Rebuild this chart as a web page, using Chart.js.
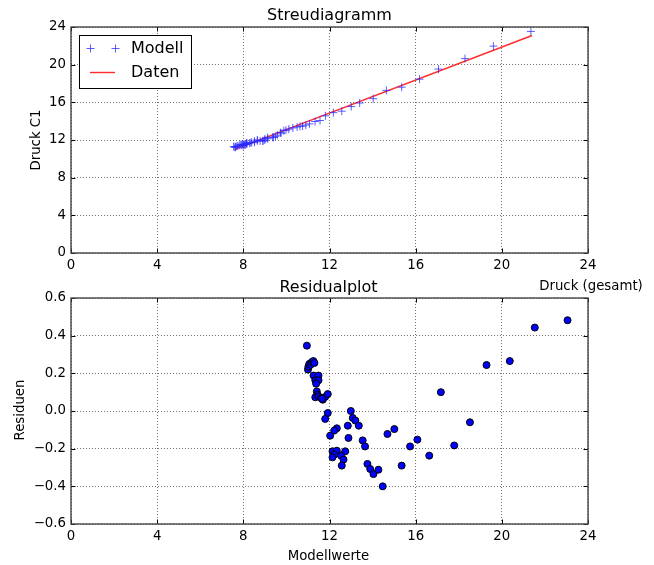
<!DOCTYPE html>
<html>
<head>
<meta charset="utf-8">
<script src="https://cdn.jsdelivr.net/npm/chart.js@4.4.1/dist/chart.umd.min.js"></script>
<style>
  html, body { margin: 0; padding: 0; background: #ffffff; }
  #wrap { position: relative; width: 654px; height: 565px; }
  canvas { position: absolute; left: 0; top: 0; }
</style>
</head>
<body>
<div id="wrap">
  <canvas id="top" width="654" height="565"></canvas>
  <canvas id="bottom" width="654" height="565"></canvas>
</div>
<script>
// ---- Data ----
// Upper plot: Druck (gesamt) vs Druck C1
const druckGesamt = [7.55, 7.61, 7.63, 7.67, 7.74, 7.81, 7.89, 7.95, 7.90, 8.16,
  7.99, 8.16, 8.04, 8.07, 8.11, 7.99, 8.16, 8.29, 8.39, 8.52,
  8.65, 8.35, 8.65, 8.52, 9.88, 9.98, 10.11, 10.30, 9.72, 9.13,
  9.00, 8.78, 9.75, 10.50, 10.63, 11.81, 12.18, 13.01, 13.40, 14.03,
  8.91, 9.13, 9.58, 9.00, 8.91, 9.36, 9.49, 9.40, 10.75, 10.90,
  11.07, 11.33, 12.57, 11.56, 14.64, 15.35, 16.18, 17.06, 18.29, 19.61,
  21.35];
const druckC1 = [11.30, 11.22, 11.26, 11.31, 11.37, 11.44, 11.52, 11.56, 11.45, 11.68,
  11.50, 11.65, 11.53, 11.51, 11.53, 11.41, 11.57, 11.67, 11.75, 11.88,
  12.01, 11.72, 11.91, 11.76, 12.99, 13.04, 13.15, 13.28, 12.77, 12.25,
  12.12, 11.90, 12.74, 13.38, 13.46, 14.57, 14.91, 15.55, 15.93, 16.39,
  11.93, 12.13, 12.52, 11.99, 11.89, 12.30, 12.39, 12.28, 13.48, 13.58,
  13.71, 13.96, 15.06, 14.07, 17.27, 17.61, 18.46, 19.53, 20.64, 21.97,
  23.53];
// Fitted line ("Daten")
const lineX = [7.6, 21.4];
const lineY = [11.0, 23.1];

// Lower plot: Modellwerte vs Residuen
const modellwerte = [10.95, 11.00, 11.02, 11.06, 11.12, 11.18, 11.25, 11.30, 11.26, 11.49,
  11.34, 11.49, 11.38, 11.41, 11.44, 11.34, 11.49, 11.60, 11.69, 11.80,
  11.92, 11.65, 11.92, 11.80, 12.99, 13.08, 13.20, 13.36, 12.85, 12.34,
  12.22, 12.03, 12.88, 13.54, 13.65, 14.69, 15.01, 15.74, 16.08, 16.63,
  12.14, 12.34, 12.73, 12.22, 12.14, 12.54, 12.65, 12.57, 13.76, 13.89,
  14.04, 14.27, 15.35, 14.47, 17.17, 17.79, 18.52, 19.29, 20.37, 21.53,
  23.05];
const residuen = [0.347, 0.220, 0.235, 0.250, 0.245, 0.260, 0.265, 0.255, 0.188, 0.188,
  0.163, 0.163, 0.145, 0.104, 0.087, 0.073, 0.078, 0.070, 0.060, 0.075,
  0.090, 0.065, -0.011, -0.042, 0.000, -0.037, -0.051, -0.078, -0.078, -0.092,
  -0.104, -0.131, -0.143, -0.156, -0.188, -0.122, -0.096, -0.188, -0.152, -0.237,
  -0.214, -0.211, -0.214, -0.232, -0.246, -0.237, -0.258, -0.290, -0.281, -0.308,
  -0.335, -0.312, -0.290, -0.400, 0.100, -0.183, -0.060, 0.244, 0.265, 0.443,
  0.482];

// Tick settings
const xTicksTop = { min: 0, max: 24, step: 4 };
const yTicksTop = { min: 0, max: 24, step: 4 };
const xTicksBottom = { min: 0, max: 24, step: 4 };
const yTicksBottom = { min: -0.6, max: 0.6, step: 0.2 };

// ---- Styling helpers ----
const FONT = "'DejaVu Sans', 'Liberation Sans', sans-serif";
const TICK_FONT = { family: FONT, size: 13.3 };

const framePlugin = {
  id: 'frameTicks',
  afterDraw(chart) {
    const { ctx, chartArea: { left, right, top, bottom } } = chart;
    const xs = chart.scales.x, ys = chart.scales.y;
    ctx.save();
    ctx.strokeStyle = '#000';
    ctx.lineWidth = 1;
    ctx.setLineDash([]);
    const L = 4.5;
    xs.ticks.forEach(t => {
      const px = Math.round(xs.getPixelForValue(t.value)) + 0.5;
      ctx.beginPath();
      ctx.moveTo(px, bottom); ctx.lineTo(px, bottom - L);
      ctx.moveTo(px, top); ctx.lineTo(px, top + L);
      ctx.stroke();
    });
    ys.ticks.forEach(t => {
      const py = Math.round(ys.getPixelForValue(t.value)) + 0.5;
      ctx.beginPath();
      ctx.moveTo(left, py); ctx.lineTo(left + L, py);
      ctx.moveTo(right, py); ctx.lineTo(right - L, py);
      ctx.stroke();
    });
    ctx.strokeStyle = '#444';
    ctx.lineWidth = 1.4;
    ctx.strokeRect(left, top, right - left, bottom - top);
    ctx.restore();
  }
};

const textPlugin = {
  id: 'texts',
  afterDraw(chart, args, opts) {
    const ctx = chart.ctx;
    ctx.save();
    ctx.fillStyle = '#000';
    (opts.items || []).forEach(it => {
      ctx.save();
      ctx.font = it.size + 'px ' + FONT;
      ctx.textAlign = 'center';
      ctx.textBaseline = 'middle';
      ctx.translate(it.x, it.y);
      if (it.rotate) ctx.rotate(it.rotate);
      ctx.fillText(it.text, 0, 0);
      ctx.restore();
    });
    ctx.restore();
  }
};

const legendPlugin = {
  id: 'boxLegend',
  afterDraw(chart, args, opts) {
    if (!opts.show) return;
    const ctx = chart.ctx;
    const ds = chart.data.datasets;
    ctx.save();
    const bx = 79.5, by = 35.5, bw = 112, bh = 53;
    ctx.fillStyle = '#fff';
    ctx.fillRect(bx, by, bw, bh);
    ctx.strokeStyle = '#000';
    ctx.lineWidth = 1;
    ctx.strokeRect(bx, by, bw, bh);
    // Modell entry: two crosses
    const y1 = 48.5, y2 = 72.5;
    ctx.strokeStyle = ds[0].borderColor;
    ctx.lineWidth = 1;
    [90.5, 115.5].forEach(cx => {
      ctx.beginPath();
      ctx.moveTo(cx - 4, y1); ctx.lineTo(cx + 4, y1);
      ctx.moveTo(cx, y1 - 4); ctx.lineTo(cx, y1 + 4);
      ctx.stroke();
    });
    // Daten entry: red line
    ctx.strokeStyle = ds[1].borderColor;
    ctx.lineWidth = ds[1].borderWidth;
    ctx.beginPath();
    ctx.moveTo(90, y2); ctx.lineTo(115, y2);
    ctx.stroke();
    ctx.fillStyle = '#000';
    ctx.font = '16px ' + FONT;
    ctx.textAlign = 'left';
    ctx.textBaseline = 'middle';
    ctx.fillText(ds[0].label, 131, y1 + 0.5);
    ctx.fillText(ds[1].label, 131, y2 + 0.5);
    ctx.restore();
  }
};

function axis(t, isX, fixed, fmt) {
  return {
    type: 'linear',
    min: t.min, max: t.max,
    ticks: {
      stepSize: t.step,
      padding: isX ? 5 : 5,
      color: '#000',
      font: TICK_FONT,
      maxRotation: 0,
      autoSkip: false,
      callback: fmt
    },
    grid: { drawTicks: false, color: 'rgba(0,0,0,0.55)', lineWidth: 1 },
    border: { display: false, dash: [1, 2] },
    afterFit(s) { if (isX) s.height = fixed; else s.width = fixed; }
  };
}

const intFmt = v => String(Math.round(v));
const decFmt = v => {
  const r = Math.round(v * 10) / 10;
  const s = Math.abs(r).toFixed(1);
  return (r < 0 ? '\u2212' : '') + s;
};

Chart.register(framePlugin, textPlugin, legendPlugin);

// ---- Upper chart ----
new Chart(document.getElementById('top'), {
  type: 'scatter',
  data: {
    datasets: [
      {
        label: 'Modell',
        data: druckGesamt.map((x, i) => ({ x: x, y: druckC1[i] })),
        pointStyle: 'cross',
        pointRadius: 4,
        borderColor: 'rgba(40,40,255,0.75)',
        backgroundColor: 'rgba(40,40,255,0.75)',
        borderWidth: 1,
        showLine: false
      },
      {
        label: 'Daten',
        type: 'line',
        data: lineX.map((x, i) => ({ x: x, y: lineY[i] })),
        borderColor: 'rgba(255,20,20,0.9)',
        borderWidth: 1.4,
        pointRadius: 0,
        fill: false,
        tension: 0
      }
    ]
  },
  options: {
    responsive: false,
    animation: false,
    devicePixelRatio: 1,
    layout: { padding: { left: 0, top: 27, right: 66, bottom: 282 } },
    plugins: {
      legend: { display: false },
      tooltip: { enabled: false },
      boxLegend: { show: true },
      texts: {
        items: [
          { text: 'Streudiagramm', x: 329.5, y: 16, size: 16 },
          { text: 'Druck C1', x: 36.5, y: 140, size: 13.3, rotate: -Math.PI / 2 },
          { text: 'Druck (gesamt)', x: 591, y: 286.5, size: 13.3 }
        ]
      }
    },
    scales: {
      x: axis(xTicksTop, true, 30, intFmt),
      y: axis(yTicksTop, false, 71, intFmt)
    }
  }
});

// ---- Lower chart ----
new Chart(document.getElementById('bottom'), {
  type: 'scatter',
  data: {
    datasets: [
      {
        label: 'Residuen',
        data: modellwerte.map((x, i) => ({ x: x, y: residuen[i] })),
        pointStyle: 'circle',
        pointRadius: 3.5,
        backgroundColor: '#0000ff',
        borderColor: '#000000',
        borderWidth: 1
      }
    ]
  },
  options: {
    responsive: false,
    animation: false,
    devicePixelRatio: 1,
    layout: { padding: { left: 0, top: 298, right: 66, bottom: 11 } },
    plugins: {
      legend: { display: false },
      tooltip: { enabled: false },
      boxLegend: { show: false },
      texts: {
        items: [
          { text: 'Residualplot', x: 328.5, y: 288, size: 16 },
          { text: 'Residuen', x: 21, y: 410, size: 13.3, rotate: -Math.PI / 2 },
          { text: 'Modellwerte', x: 328.5, y: 556.5, size: 13.3 }
        ]
      }
    },
    scales: {
      x: axis(xTicksBottom, true, 30, intFmt),
      y: axis(yTicksBottom, false, 71, decFmt)
    }
  }
});
</script>
</body>
</html>
